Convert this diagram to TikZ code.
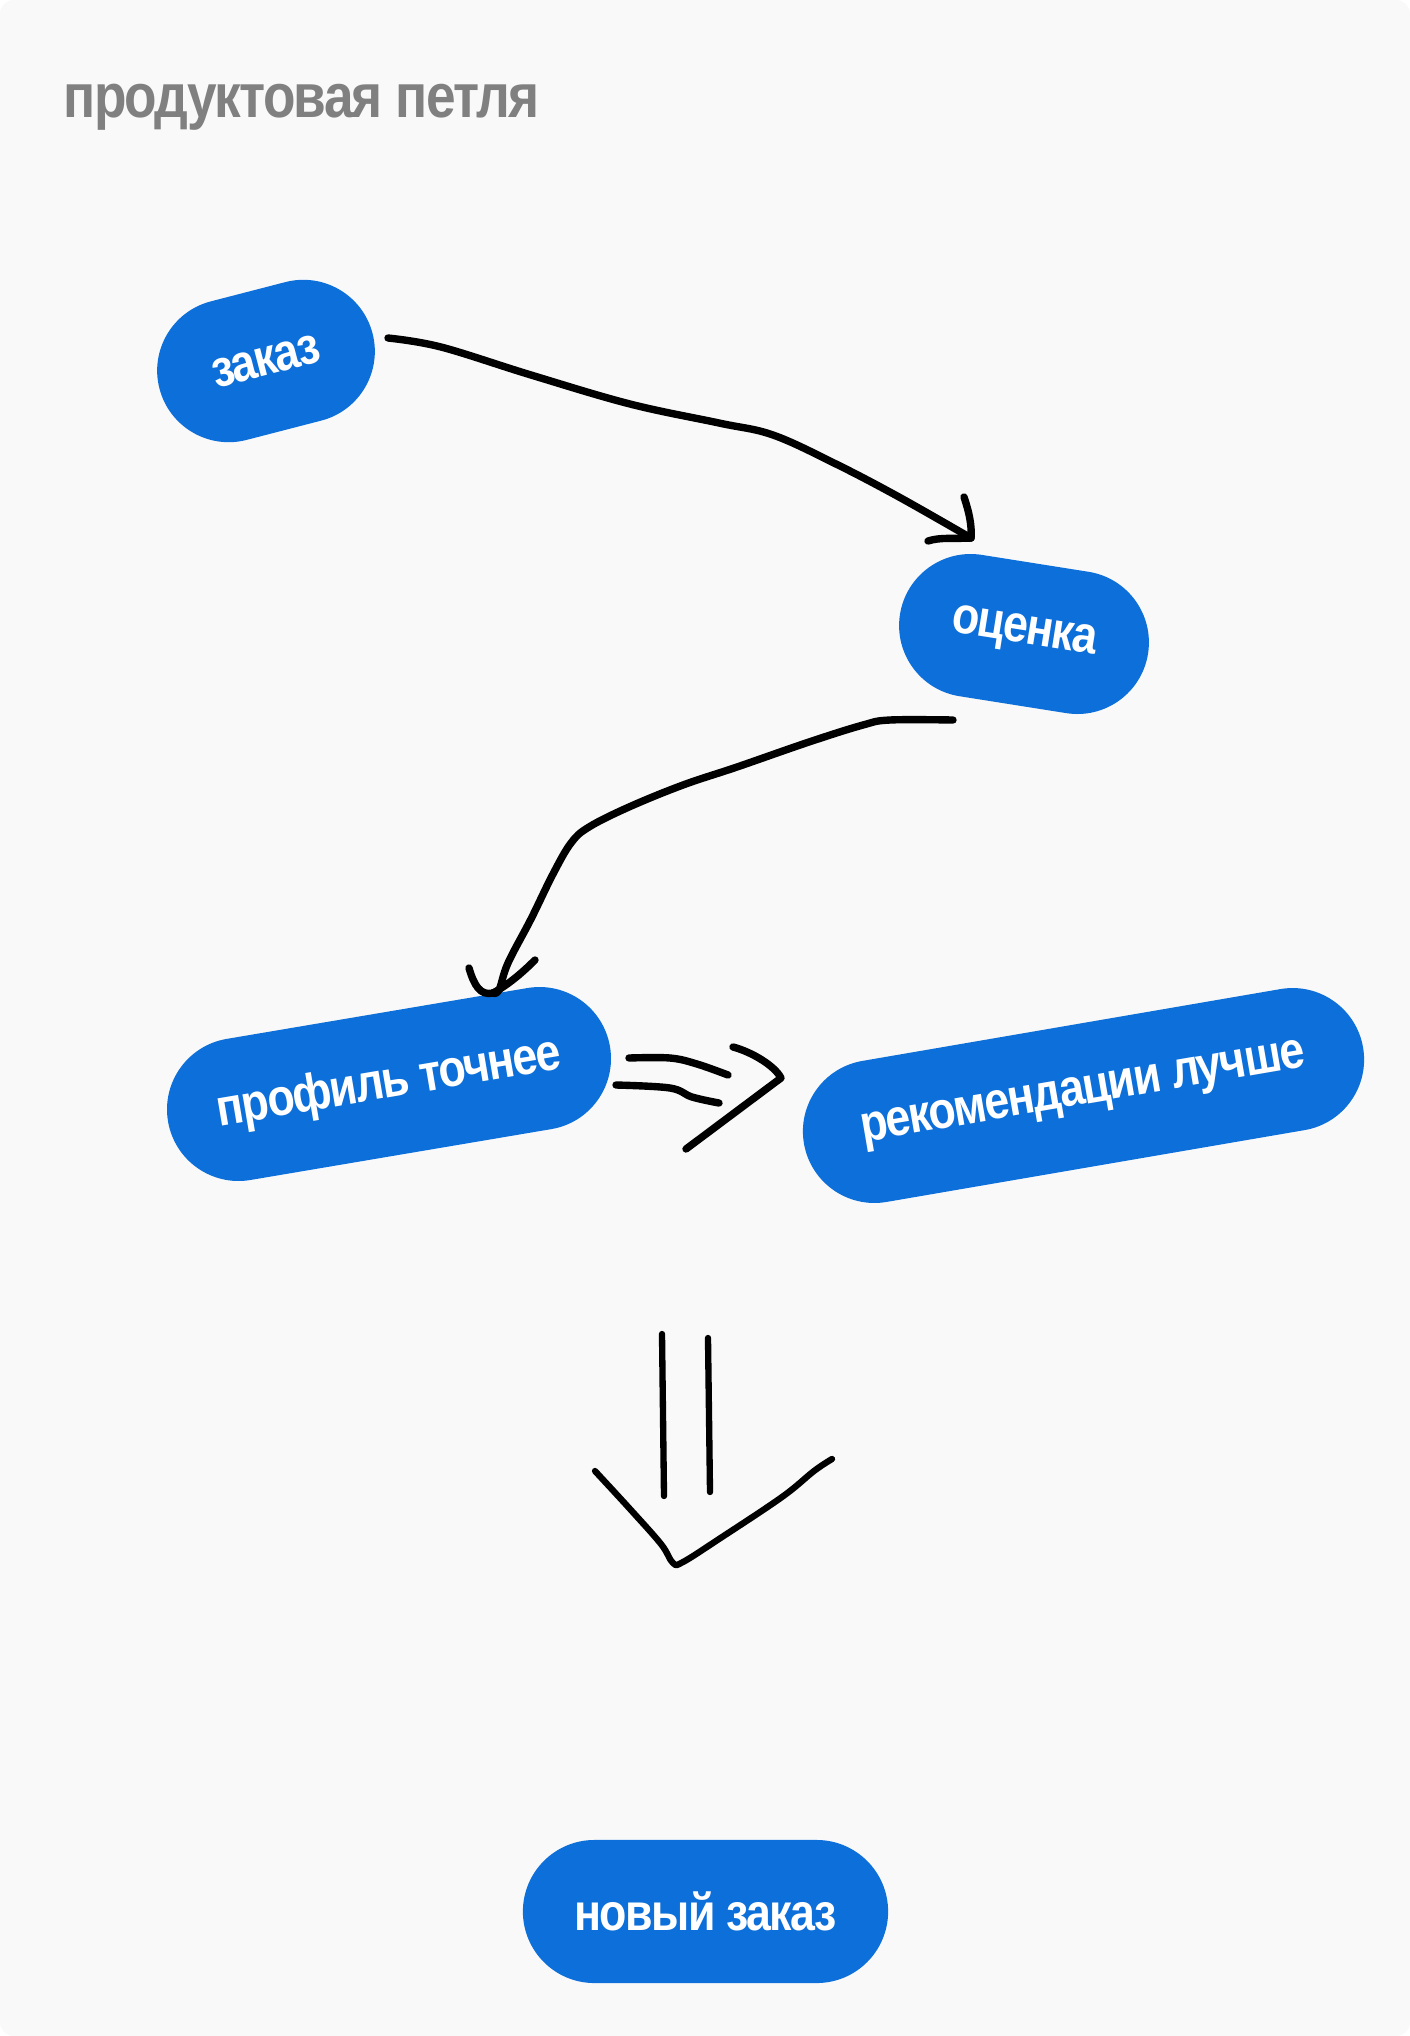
\documentclass[tikz,border=0pt]{standalone}
\usepackage{fontspec}
\setmainfont{Liberation Sans}
\newfontfamily\pillfont{Liberation Sans}[FakeStretch=0.86,LetterSpace=-3]
\usetikzlibrary{positioning}

\definecolor{pillblue}{HTML}{0D6FD9}
\definecolor{sheet}{HTML}{F9F9F9}
\definecolor{titlegray}{HTML}{808080}

\tikzset{
	pill/.style={fill=pillblue, rounded corners=0.715cm, minimum height=1.43cm, inner sep=0pt, text=white, font=\pillfont\bfseries\fontsize{14.8}{16}\selectfont},
	sketch/.style={line width=2.1pt, line cap=round, line join=round},
	sketchthin/.style={line width=1.8pt, line cap=round, line join=round}
}

\begin{document}
\begin{tikzpicture}[x=0.01cm, y=-0.01cm]

	\fill[white] (0,0) rectangle (1410,2036);
	\fill[sheet, rounded corners=0.14cm] (0,0) rectangle (1410,2036);
	\useasboundingbox (0,0) rectangle (1410,2036);

	\node[anchor=base west, inner sep=0pt, text=titlegray, font=\pillfont\bfseries\fontsize{17.6}{20}\selectfont] (title) at (63,117) {продуктовая петля};

	\node[pill, minimum width=2.20cm, rotate=14.5] (zakaz) at (266,361) {заказ};
	\node[pill, minimum width=2.51cm, rotate=-9] (ocenka) at (1024,634) {оценка};
	\node[pill, minimum width=4.48cm, rotate=9.6] (profil) at (389,1084) {профиль точнее};
	\node[pill, minimum width=5.67cm, rotate=9.75] (rekom) at (1083.5,1095.5) {рекомендации лучше};
	\node[pill, minimum width=3.65cm] (novyj) at (705.5,1911.5) {новый заказ};

	\coordinate (zakaz-out) at (388,338);
	\coordinate (ocenka-in) at (971,538);
	\coordinate (ocenka-out) at (953,720);
	\coordinate (profil-in) at (493,993);
	\coordinate (impl-top) at (629,1058);
	\coordinate (impl-bot) at (616,1085);
	\coordinate (impl-tip) at (781,1078);
	\coordinate (down-l) at (662,1334);
	\coordinate (down-r) at (708,1338);
	\coordinate (down-tip) at (673,1563);

	\draw[sketch] plot[smooth, tension=0.6] coordinates {(zakaz-out) (441,347) (531,375) (630,404) (719,423) (773,435) (836,464) (899,497) (ocenka-in)};
	\draw[sketch] (964,497) .. controls (969,512) and (972,525) .. (ocenka-in);
	\draw[sketch] (928,541) .. controls (940,537) and (955,539) .. (ocenka-in);

	\draw[sketch] plot[smooth, tension=0.6] coordinates {(ocenka-out) (890,720) (863,725) (809,742) (737,767) (683,785) (629,807) (589,827) (571,843) (553,874) (531,919) (508,963) (499,990) (profil-in)};
	\draw[sketch] (469,968) .. controls (474,985) and (480,996) .. (profil-in);
	\draw[sketch] (535,960) .. controls (520,975) and (506,986) .. (profil-in);

	\draw[sketch] plot[smooth, tension=0.6] coordinates {(impl-top) (670,1058) (697,1064) (728,1075)};
	\draw[sketch] plot[smooth, tension=0.6] coordinates {(impl-bot) (670,1088) (692,1097) (719,1103)};
	\draw[sketch] (733,1047) .. controls (752,1052) and (775,1066) .. (impl-tip) -- (686,1149);

	\draw[sketchthin] (down-l) -- (664,1496);
	\draw[sketchthin] (down-r) -- (710,1492);
	\draw[sketchthin] plot[smooth, tension=0.6] coordinates {(595,1471) (630,1509) (661,1544) (down-tip) (683,1562) (719,1539) (782,1497) (814,1471) (832,1459)};

\end{tikzpicture}
\end{document}
